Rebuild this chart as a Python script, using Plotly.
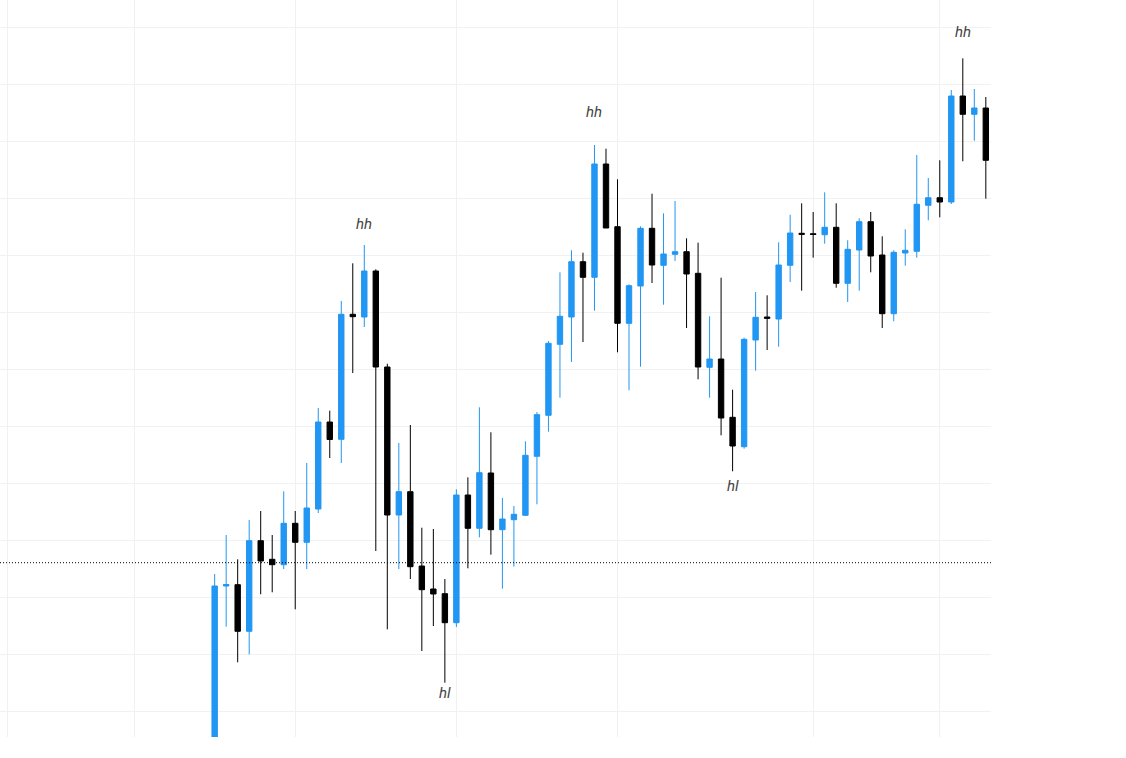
import plotly.graph_objects as go

# candle index (0 = first visible candle)
idx = list(range(68))

open_ = [23.0, 41.4, 41.53, 36.87, 45.93, 44.07, 43.53, 47.67, 45.77, 49.1,
         57.8, 56.07, 68.57, 68.3, 72.9, 63.3, 48.5, 50.83, 43.4, 41.1,
         40.63, 37.73, 50.5, 47.17, 52.7, 47.03, 48.03, 48.47, 54.37, 58.47,
         65.57, 68.3, 73.83, 72.27, 83.6, 77.33, 67.67, 71.4, 77.17, 73.47,
         74.57, 74.83, 72.67, 63.27, 64.1, 58.27, 55.33, 66.0, 68.3, 68.1,
         73.47, 76.67, 76.63, 76.53, 77.27, 71.67, 75.0, 77.83, 74.5, 68.63,
         74.7, 74.87, 79.47, 80.23, 79.8, 90.4, 88.57, 89.2]
high = [42.6, 46.5, 44.07, 48.0, 48.9, 46.5, 50.87, 48.9, 53.7, 59.2,
        58.93, 69.9, 73.67, 75.5, 73.07, 63.63, 55.7, 57.5, 47.23, 47.1,
        42.1, 51.07, 52.27, 59.27, 56.77, 50.2, 49.4, 55.87, 58.8, 65.9,
        72.77, 74.97, 74.73, 85.5, 85.13, 82.07, 71.57, 77.37, 80.63, 78.67,
        79.9, 76.17, 75.73, 68.37, 72.23, 61.03, 66.23, 70.8, 70.47, 75.77,
        78.53, 79.67, 78.8, 80.77, 79.67, 75.97, 78.17, 78.8, 76.37, 74.97,
        77.07, 84.5, 82.2, 83.97, 91.0, 94.17, 91.1, 90.3]
low = [22.0, 37.33, 33.77, 34.57, 40.57, 40.77, 43.1, 39.07, 43.1, 48.7,
       54.2, 53.7, 62.7, 67.3, 44.9, 37.07, 43.1, 42.1, 34.9, 37.4,
       31.73, 37.3, 43.17, 46.27, 44.53, 41.13, 43.33, 48.4, 49.57, 56.83,
       60.23, 63.8, 65.8, 68.93, 77.2, 64.77, 60.97, 63.33, 71.7, 69.53,
       73.9, 67.2, 62.07, 60.23, 56.47, 52.87, 55.13, 62.93, 65.0, 65.33,
       71.8, 70.93, 74.23, 75.63, 71.23, 69.8, 70.93, 72.77, 67.2, 67.87,
       73.43, 74.23, 77.97, 78.27, 79.6, 83.87, 85.93, 80.13]
close = [41.4, 41.55, 36.87, 45.93, 43.9, 43.53, 47.67, 45.77, 49.2, 57.8,
         56.05, 68.57, 68.33, 72.9, 63.3, 48.5, 50.83, 43.33, 41.03, 40.6,
         37.73, 50.5, 47.17, 52.73, 47.03, 48.1, 48.57, 54.47, 58.53, 65.67,
         68.37, 73.83, 72.27, 83.6, 77.2, 67.67, 71.43, 77.17, 73.5, 74.6,
         74.83, 72.6, 63.3, 64.1, 58.2, 55.4, 66.07, 68.27, 68.17, 73.5,
         76.7, 76.57, 76.55, 77.27, 71.67, 75.07, 77.83, 74.4, 68.63, 74.77,
         74.97, 79.57, 80.23, 79.8, 90.4, 88.57, 89.2, 83.97]

grid_x = [-18, -7, 7, 21, 35, 52, 63]
grid_y = [97.27, 91.57, 85.87, 80.17, 74.47, 68.77, 63.07, 57.37, 51.67,
          45.97, 40.27, 34.57, 28.87]

ref_level = 43.73

labels = ["hh", "hl", "hh", "hl", "hh"]
label_x = [13, 20, 33, 45, 65]
label_y = [77.6, 30.7, 88.8, 51.4, 96.8]

UP = "#2196F3"
DOWN = "#000000"

fig = go.Figure()
fig.add_trace(go.Candlestick(
    x=idx, open=open_, high=high, low=low, close=close,
    increasing=dict(line=dict(color=UP, width=1), fillcolor=UP),
    decreasing=dict(line=dict(color=DOWN, width=1), fillcolor=DOWN),
    whiskerwidth=0,
    showlegend=False,
    hoverinfo="skip",
))

fig.add_shape(type="line", xref="paper", x0=0, x1=1, yref="y",
              y0=ref_level, y1=ref_level,
              line=dict(color="#000000", width=1, dash="1px,2px"))

for t, xv, yv in zip(labels, label_x, label_y):
    fig.add_annotation(x=xv, y=yv, text=f"<i>{t}</i>", showarrow=False,
                       font=dict(family="Roboto, Noto Sans, sans-serif",
                                 size=15, color="#444444"))

fig.update_layout(
    width=1126, height=758,
    margin=dict(l=0, r=135, t=0, b=21),
    paper_bgcolor="white", plot_bgcolor="white",
    boxgap=0.33,
    showlegend=False,
    xaxis=dict(range=[-18.65, 67.45], tickmode="array", tickvals=grid_x,
               showticklabels=False, showgrid=True, gridcolor="#f1f1f1",
               gridwidth=1, zeroline=False, showline=False, ticks="",
               rangeslider=dict(visible=False), fixedrange=True),
    yaxis=dict(range=[26.3, 100.0], tickmode="array", tickvals=grid_y,
               showticklabels=False, showgrid=True, gridcolor="#f1f1f1",
               gridwidth=1, zeroline=False, showline=False, ticks="",
               fixedrange=True),
)

fig.write_html("out.html",
               config={"displayModeBar": False},
               post_script="document.body.style.margin='0px';"
                           "document.body.style.overflow='hidden';")
